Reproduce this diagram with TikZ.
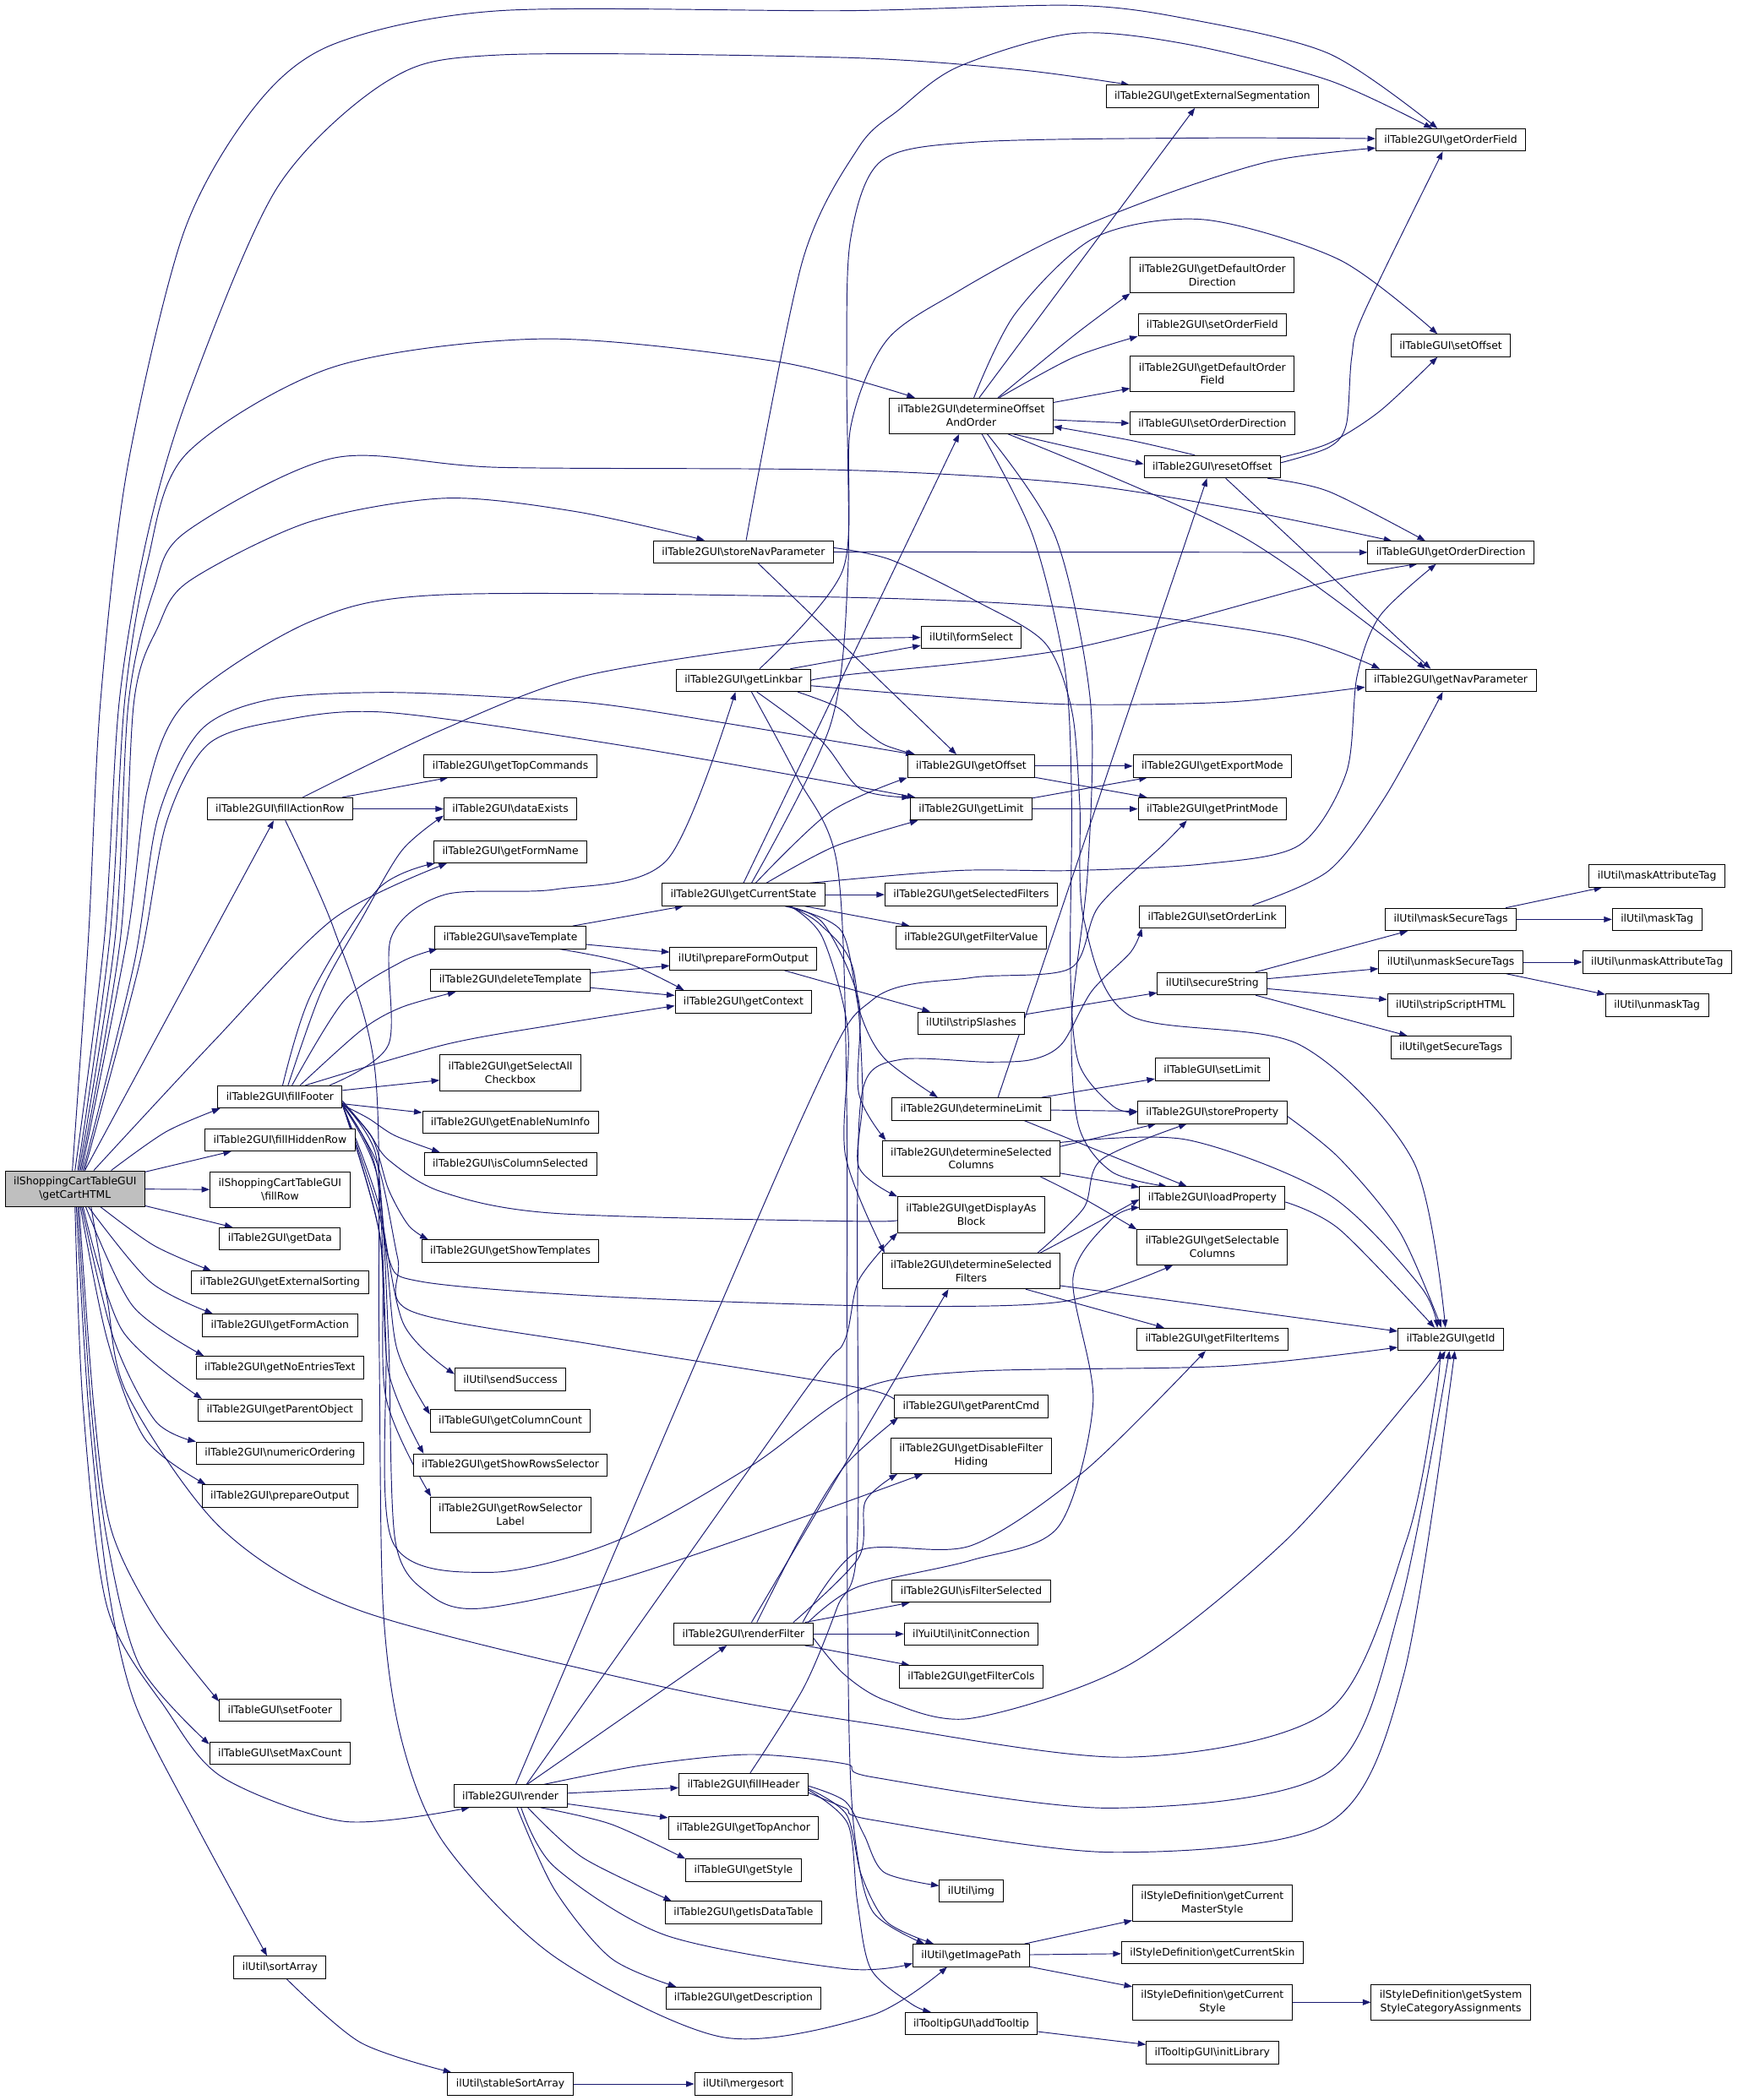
\documentclass[tikz,border=0pt]{standalone}
\usepackage{fontspec}
\setmainfont{DejaVu Sans}
\usetikzlibrary{arrows.meta}
\definecolor{eblue}{HTML}{191970}
\definecolor{rootgray}{HTML}{BFBFBF}
\newcommand{\BkS}{\textbackslash}
\pgfdeclarelayer{edges}
\pgfsetlayers{edges,main}
\tikzset{
 n/.style={draw=black, fill=white, line width=0.6pt, inner xsep=6.3pt, inner ysep=1pt, minimum height=16.7pt, align=center, font=\fontsize{7.8}{10}\selectfont},
 n2/.style={n, minimum height=26.6pt},
 e/.style={draw=eblue, line width=0.6pt, -{Triangle[length=6pt,width=4.4pt]}},
}
\begin{document}
\begin{tikzpicture}[x=1pt,y=-1pt]
\useasboundingbox (0,0) rectangle (1297,1568);
% ---------- nodes ----------
\node[n2,fill=rootgray] (C) at (56,887.5) {ilShoppingCartTableGUI\\\BkS getCartHTML};
% col 2
\node[n] (fillActionRow) at (209,604) {ilTable2GUI\BkS fillActionRow};
\node[n] (fillFooter) at (209,819) {ilTable2GUI\BkS fillFooter};
\node[n] (fillHiddenRow) at (209,851) {ilTable2GUI\BkS fillHiddenRow};
\node[n2] (fillRow) at (209,888.5) {ilShoppingCartTableGUI\\\BkS fillRow};
\node[n] (getData) at (209,925) {ilTable2GUI\BkS getData};
\node[n] (getExternalSorting) at (209,957.5) {ilTable2GUI\BkS getExternalSorting};
\node[n] (getFormAction) at (209,989.5) {ilTable2GUI\BkS getFormAction};
\node[n] (getNoEntriesText) at (209,1021) {ilTable2GUI\BkS getNoEntriesText};
\node[n] (getParentObject) at (209,1053) {ilTable2GUI\BkS getParentObject};
\node[n] (numericOrdering) at (209,1085) {ilTable2GUI\BkS numericOrdering};
\node[n] (prepareOutput) at (209,1117) {ilTable2GUI\BkS prepareOutput};
\node[n] (setFooter) at (209,1277) {ilTableGUI\BkS setFooter};
\node[n] (setMaxCount) at (209,1309) {ilTableGUI\BkS setMaxCount};
\node[n] (sortArray) at (209,1469) {ilUtil\BkS sortArray};
% col 3
\node[n] (getTopCommands) at (381,572) {ilTable2GUI\BkS getTopCommands};
\node[n] (dataExists) at (381,604) {ilTable2GUI\BkS dataExists};
\node[n] (getFormName) at (381,636) {ilTable2GUI\BkS getFormName};
\node[n] (saveTemplate) at (381,700) {ilTable2GUI\BkS saveTemplate};
\node[n] (deleteTemplate) at (381,732) {ilTable2GUI\BkS deleteTemplate};
\node[n2] (getSelectAll) at (381,801) {ilTable2GUI\BkS getSelectAll\\Checkbox};
\node[n] (getEnableNumInfo) at (381,838) {ilTable2GUI\BkS getEnableNumInfo};
\node[n] (isColumnSelected) at (381,869) {ilTable2GUI\BkS isColumnSelected};
\node[n] (getShowTemplates) at (381,934) {ilTable2GUI\BkS getShowTemplates};
\node[n] (sendSuccess) at (381,1030) {ilUtil\BkS sendSuccess};
\node[n] (getColumnCount) at (381,1061) {ilTableGUI\BkS getColumnCount};
\node[n] (getShowRowsSelector) at (381,1094) {ilTable2GUI\BkS getShowRowsSelector};
\node[n2] (getRowSelectorLabel) at (381,1131) {ilTable2GUI\BkS getRowSelector\\Label};
\node[n] (render) at (381,1341) {ilTable2GUI\BkS render};
\node[n] (stableSortArray) at (381,1556) {ilUtil\BkS stableSortArray};
% col 4
\node[n] (storeNavParameter) at (555,412) {ilTable2GUI\BkS storeNavParameter};
\node[n] (getLinkbar) at (555,508) {ilTable2GUI\BkS getLinkbar};
\node[n] (getCurrentState) at (555,668) {ilTable2GUI\BkS getCurrentState};
\node[n] (prepareFormOutput) at (555,716) {ilUtil\BkS prepareFormOutput};
\node[n] (getContext) at (555,748) {ilTable2GUI\BkS getContext};
\node[n] (renderFilter) at (555,1220) {ilTable2GUI\BkS renderFilter};
\node[n] (fillHeader) at (555,1332.5) {ilTable2GUI\BkS fillHeader};
\node[n] (getTopAnchor) at (555,1365) {ilTable2GUI\BkS getTopAnchor};
\node[n] (getStyle) at (555,1396.5) {ilTableGUI\BkS getStyle};
\node[n] (getIsDataTable) at (555,1428) {ilTable2GUI\BkS getIsDataTable};
\node[n] (getDescription) at (555,1492) {ilTable2GUI\BkS getDescription};
\node[n] (mergesort) at (555,1556) {ilUtil\BkS mergesort};
% col 5
\node[n2] (detOffset) at (725,310.5) {ilTable2GUI\BkS determineOffset\\AndOrder};
\node[n] (formSelect) at (725,476) {ilUtil\BkS formSelect};
\node[n] (getOffset) at (725,572) {ilTable2GUI\BkS getOffset};
\node[n] (getLimit) at (725,604) {ilTable2GUI\BkS getLimit};
\node[n] (getSelectedFilters) at (725,668) {ilTable2GUI\BkS getSelectedFilters};
\node[n] (getFilterValue) at (725,700) {ilTable2GUI\BkS getFilterValue};
\node[n] (stripSlashes) at (725,764) {ilUtil\BkS stripSlashes};
\node[n] (detLimit) at (725,828) {ilTable2GUI\BkS determineLimit};
\node[n2] (detSelCols) at (725,865) {ilTable2GUI\BkS determineSelected\\Columns};
\node[n2] (getDisplayAsBlock) at (725,907) {ilTable2GUI\BkS getDisplayAs\\Block};
\node[n2] (detSelFilters) at (725,949) {ilTable2GUI\BkS determineSelected\\Filters};
\node[n] (getParentCmd) at (725,1050) {ilTable2GUI\BkS getParentCmd};
\node[n2] (getDisableFilterHiding) at (725,1087) {ilTable2GUI\BkS getDisableFilter\\Hiding};
\node[n] (isFilterSelected) at (725,1188) {ilTable2GUI\BkS isFilterSelected};
\node[n] (initConnection) at (725,1220) {ilYuiUtil\BkS initConnection};
\node[n] (getFilterCols) at (725,1252) {ilTable2GUI\BkS getFilterCols};
\node[n] (img) at (725,1412) {ilUtil\BkS img};
\node[n] (getImagePath) at (725,1460) {ilUtil\BkS getImagePath};
\node[n] (addTooltip) at (725,1511) {ilTooltipGUI\BkS addTooltip};
% col 6
\node[n] (getExtSeg) at (905,72) {ilTable2GUI\BkS getExternalSegmentation};
\node[n2] (getDefOrdDir) at (905,205.5) {ilTable2GUI\BkS getDefaultOrder\\Direction};
\node[n] (setOrderField) at (905,242.5) {ilTable2GUI\BkS setOrderField};
\node[n2] (getDefOrdField) at (905,279) {ilTable2GUI\BkS getDefaultOrder\\Field};
\node[n] (setOrderDirection) at (905,316) {ilTableGUI\BkS setOrderDirection};
\node[n] (resetOffset) at (905,348.5) {ilTable2GUI\BkS resetOffset};
\node[n] (getExportMode) at (905,572) {ilTable2GUI\BkS getExportMode};
\node[n] (getPrintMode) at (905,604) {ilTable2GUI\BkS getPrintMode};
\node[n] (setOrderLink) at (905,684.5) {ilTable2GUI\BkS setOrderLink};
\node[n] (secureString) at (905,734.5) {ilUtil\BkS secureString};
\node[n] (setLimit) at (905,798.5) {ilTableGUI\BkS setLimit};
\node[n] (storeProperty) at (905,830.5) {ilTable2GUI\BkS storeProperty};
\node[n] (loadProperty) at (905,894.5) {ilTable2GUI\BkS loadProperty};
\node[n2] (getSelCols) at (905,931) {ilTable2GUI\BkS getSelectable\\Columns};
\node[n] (getFilterItems) at (905,1000) {ilTable2GUI\BkS getFilterItems};
\node[n2] (getCurMaster) at (905,1421) {ilStyleDefinition\BkS getCurrent\\MasterStyle};
\node[n] (getCurSkin) at (905,1458) {ilStyleDefinition\BkS getCurrentSkin};
\node[n2] (getCurStyle) at (905,1495) {ilStyleDefinition\BkS getCurrent\\Style};
\node[n] (initLibrary) at (905,1532.5) {ilTooltipGUI\BkS initLibrary};
% col 7
\node[n] (getOrderField) at (1083,104.5) {ilTable2GUI\BkS getOrderField};
\node[n] (setOffset) at (1083,258) {ilTableGUI\BkS setOffset};
\node[n] (getOrderDirection) at (1083,412.5) {ilTableGUI\BkS getOrderDirection};
\node[n] (getNavParameter) at (1083,508) {ilTable2GUI\BkS getNavParameter};
\node[n] (maskSecureTags) at (1083,686.5) {ilUtil\BkS maskSecureTags};
\node[n] (unmaskSecureTags) at (1083,718.4) {ilUtil\BkS unmaskSecureTags};
\node[n] (stripScriptHTML) at (1083,750.6) {ilUtil\BkS stripScriptHTML};
\node[n] (getSecureTags) at (1083,782) {ilUtil\BkS getSecureTags};
\node[n] (getId) at (1083,1000) {ilTable2GUI\BkS getId};
\node[n2] (getSysStyle) at (1083,1495) {ilStyleDefinition\BkS getSystem\\StyleCategoryAssignments};
% col 8
\node[n] (maskAttributeTag) at (1237,654) {ilUtil\BkS maskAttributeTag};
\node[n] (maskTag) at (1237,686.5) {ilUtil\BkS maskTag};
\node[n] (unmaskAttributeTag) at (1237,718.4) {ilUtil\BkS unmaskAttributeTag};
\node[n] (unmaskTag) at (1237,750.6) {ilUtil\BkS unmaskTag};

% ---------- edges ----------
\begin{pgfonlayer}{edges}
\fill[white] (0,0) rectangle (1297,1568);
% from getCartHTML
\draw[e] plot[smooth] coordinates {([xshift=-2pt]C.north) (66,700) (75,524) (95,350) (137,174) (190,80) (249,33) (373,8) (631,8) (801,4) (886,14) (992,40) ([xshift=-10pt]getOrderField.north)};
\draw[e] plot[smooth] coordinates {(C.north) (78,700) (89,524) (110,400) (141,294) (207,140) (290,60) (373,41) (631,43) (760,52) ([xshift=-62pt]getExtSeg.north)};
\draw[e] plot[smooth] coordinates {([xshift=2pt]C.north) (82,700) (93,524) (110,420) (139,339) (249,274) (406,253) (580,270) ([xshift=-42pt]detOffset.north)};
\draw[e] plot[smooth] coordinates {([xshift=3pt]C.north) (86,700) (96,524) (115,440) (139,397) (249,342) (373,349) (631,351) (801,361) (928,381) ([xshift=-44pt]getOrderDirection.north)};
\draw[e] plot[smooth] coordinates {([xshift=4pt]C.north) (90,700) (100,524) (118,468) (141,434) (230,390) (332,372) (430,382) ([xshift=-29pt]storeNavParameter.north)};
\draw[e] plot[smooth] coordinates {([xshift=5pt]C.north) (95,700) (110,590) (139,524) (232,464) (332,444) (631,446) (801,454) (960,475) ([xshift=-53pt]getNavParameter.north)};
\draw[e] plot[smooth] coordinates {([xshift=6pt]C.north) (100,720) (118,610) (150,545) (203,522) (290,517) (400,522) (473,529) ([xshift=5pt]getOffset.north west)};
\draw[e] plot[smooth] coordinates {([xshift=7pt]C.north) (104,720) (124,615) (155,556) (210,538) (290,532) (473,558) ([xshift=4pt]getLimit.north west)};
\draw[e] (C) -- (fillActionRow);
\draw[e] plot[smooth] coordinates {([xshift=14pt]C.north) (160,777) (249,686) ([xshift=10pt]getFormName.south west)};
\draw[e] plot[smooth] coordinates {([xshift=27pt]C.north) (124,845) ([xshift=2pt]fillFooter.south west)};
\draw[e] (C) -- (fillHiddenRow);
\draw[e] (C) -- (fillRow);
\draw[e] (C) -- (getData);
\draw[e] plot[smooth] coordinates {([xshift=19pt]C.south) (115,930) ([xshift=15pt]getExternalSorting.north west)};
\draw[e] plot[smooth] coordinates {([xshift=10pt]C.south) (112,957) ([xshift=8pt]getFormAction.north west)};
\draw[e] plot[smooth] coordinates {([xshift=8pt]C.south) (99,975) ([xshift=6pt]getNoEntriesText.north west)};
\draw[e] plot[smooth] coordinates {([xshift=6pt]C.south) (91,993) ([xshift=3pt]getParentObject.north west)};
\draw[e] plot[smooth] coordinates {([xshift=5pt]C.south) (85,1000) (116,1061) (numericOrdering.north west)};
\draw[e] plot[smooth] coordinates {([xshift=4pt]C.south) (80,1000) (108,1074) ([xshift=3pt]prepareOutput.north west)};
\draw[e] plot[smooth] coordinates {([xshift=3pt]C.south) (70,1050) (83,1142) (116,1209) ([yshift=-2pt]setFooter.north west)};
\draw[e] plot[smooth] coordinates {([xshift=2pt]C.south) (68,1050) (80,1150) (104,1243) ([yshift=-2pt]setMaxCount.north west)};
\draw[e] plot[smooth] coordinates {([xshift=1pt]C.south) (66,1050) (80,1180) (100,1270) (145,1360) ([xshift=25pt]sortArray.north west)};
\draw[e] plot[smooth] coordinates {(C.south) (62,1050) (80,1200) (124,1276) (166,1327) (257,1360) ([xshift=12pt]render.south west)};
\draw[e] plot[smooth] coordinates {([xshift=12pt]C.south) (80,970) (95,1041) (166,1142) (270,1203) (497,1260) (650,1287) (843,1312) (992,1277) (1050,1150) (1072,1041) ([xshift=-8pt]getId.south)};
% fillActionRow
\draw[e] plot[smooth] coordinates {([xshift=17pt]fillActionRow.north) (330,545) (435,505) (595,480) (formSelect.west)};
\draw[e] (fillActionRow) -- (getTopCommands);
\draw[e] (fillActionRow) -- (dataExists);
\draw[e] plot[smooth] coordinates {([xshift=4pt]fillActionRow.south) (249,693) (280,800) (283,1000) (286,1200) (300,1300) (332,1377) (414,1461) (539,1521) (650,1505) ([xshift=-18pt]getImagePath.south)};
% fillFooter
\draw[e] plot[smooth] coordinates {([xshift=6pt]fillFooter.north) (240,740) (270,686) (300,635) ([yshift=-5pt]dataExists.west)};
\draw[e] plot[smooth] coordinates {([xshift=2pt]fillFooter.north) (232,743) (282,664) ([xshift=1pt]getFormName.south west)};
\draw[e] plot[smooth] coordinates {([xshift=37pt]fillFooter.north) (290,780) (292,700) (332,668) (415,664) (498,642) ([xshift=-6pt]getLinkbar.south)};
\draw[e] plot[smooth] coordinates {([xshift=9pt]fillFooter.north) (257,747) (300,718) ([xshift=2pt]saveTemplate.south west)};
\draw[e] plot[smooth] coordinates {([xshift=15pt]fillFooter.north) (270,769) (300,752) ([xshift=19pt]deleteTemplate.south west)};
\draw[e] plot[smooth] coordinates {([xshift=19pt]fillFooter.north) (332,780) (415,765) ([yshift=-3pt]getContext.west)};
\draw[e] (fillFooter) -- (getSelectAll);
\draw[e] (fillFooter) -- (getEnableNumInfo);
\draw[e] plot[smooth] coordinates {([yshift=-6pt]fillFooter.east) (275,835) (295,848) ([xshift=12pt]isColumnSelected.north west)};
\draw[e] plot[smooth] coordinates {([yshift=-3pt]fillFooter.east) (275,845) (290,866) (330,890) (415,906) (650,912) ([yshift=-1pt]getDisplayAsBlock.west)};
\draw[e] plot[smooth] coordinates {([yshift=-5pt]fillFooter.east) (278,850) (290,888) (305,915) ([xshift=5pt]getShowTemplates.north west)};
\draw[e] plot[smooth] coordinates {([yshift=-4pt]fillFooter.east) (280,860) (290,939) (315,957) (450,968) (650,975) (792,972) ([xshift=27pt]getSelCols.south west)};
\draw[e] plot[smooth] coordinates {([yshift=-5pt]fillFooter.east) (282,870) (297,940) (307,979) (450,1005) (650,1038) ([yshift=-4pt]getParentCmd.west)};
\draw[e] plot[smooth] coordinates {([yshift=-6pt]fillFooter.east) (282,897) (301,988) ([yshift=4pt]sendSuccess.west)};
\draw[e] plot[smooth] coordinates {([yshift=-6pt]fillFooter.east) (285,915) (296,1006) ([yshift=5pt]getColumnCount.west)};
\draw[e] plot[smooth] coordinates {([yshift=-6pt]fillFooter.east) (283,920) (290,1024) ([xshift=8pt]getShowRowsSelector.north west)};
\draw[e] plot[smooth] coordinates {([yshift=-6pt]fillFooter.east) (284,925) (288,1043) ([xshift=1pt]getRowSelectorLabel.north west)};
\draw[e] plot[smooth] coordinates {([yshift=-6pt]fillFooter.east) (282,880) (290,1000) (295,1150) (320,1190) (358,1201) (459,1180) (599,1133) ([xshift=24pt]getDisableFilterHiding.south west)};
\draw[e] plot[smooth] coordinates {([yshift=-6pt]fillFooter.east) (281,875) (288,1000) (293,1151) (366,1174) (459,1151) (560,1095) (641,1038) (725,1024) (915,1020) ([yshift=-6pt]getId.west)};
% templates
\draw[e] ([xshift=-10pt]saveTemplate.north east) -- ([xshift=-45pt]getCurrentState.south);
\draw[e] (saveTemplate) -- (prepareFormOutput);
\draw[e] plot[smooth] coordinates {([xshift=-20pt]saveTemplate.south east) (468,719) ([xshift=7pt]getContext.north west)};
\draw[e] (deleteTemplate) -- (prepareFormOutput);
\draw[e] (deleteTemplate) -- (getContext);
\draw[e] (prepareFormOutput) -- (stripSlashes);
\draw[e] (stripSlashes) -- (secureString);
\draw[e] (secureString) -- (maskSecureTags);
\draw[e] (secureString) -- (unmaskSecureTags);
\draw[e] (secureString) -- (stripScriptHTML);
\draw[e] (secureString) -- (getSecureTags);
\draw[e] (maskSecureTags) -- (maskAttributeTag);
\draw[e] (maskSecureTags) -- (maskTag);
\draw[e] (unmaskSecureTags) -- (unmaskAttributeTag);
\draw[e] (unmaskSecureTags) -- (unmaskTag);
% getCurrentState
\draw[e] (getCurrentState.north) -- ([xshift=-9pt]detOffset.south);
\draw[e] plot[smooth] coordinates {([xshift=6pt]getCurrentState.north) (620,541) (633,426) (632,273) (635,178) (658,120) (729,106) (900,103) ([yshift=1pt]getOrderField.west)};
\draw[e] plot[smooth] coordinates {([xshift=9pt]getCurrentState.north) (620,606) (getOffset.south west)};
\draw[e] plot[smooth] coordinates {([xshift=17pt]getCurrentState.north) (623,632) ([xshift=6pt]getLimit.south west)};
\draw[e] plot[smooth] coordinates {([xshift=-12pt]getCurrentState.north east) (715,650) (801,650) (900,645) (970,631) (1005,577) (1013,505) (1030,460) ([xshift=-11pt]getOrderDirection.south)};
\draw[e] (getCurrentState) -- (getSelectedFilters);
\draw[e] (getCurrentState) -- (getFilterValue);
\draw[e] plot[smooth] coordinates {([xshift=-30pt]getCurrentState.south east) (628,695) (642,756) (660,790) ([xshift=-25pt]detLimit.north)};
\draw[e] plot[smooth] coordinates {([xshift=-28pt]getCurrentState.south east) (615,690) (641,747) (641,816) ([xshift=3pt]detSelCols.north west)};
\draw[e] plot[smooth] coordinates {([xshift=-27pt]getCurrentState.south east) (612,690) (637,724) (644,816) (641,871) (getDisplayAsBlock.north west)};
\draw[e] plot[smooth] coordinates {([xshift=-26pt]getCurrentState.south east) (614,700) (633,770) (631,862) ([xshift=2pt]detSelFilters.north west)};
% getLinkbar
\draw[e] plot[smooth] coordinates {([xshift=12pt]getLinkbar.north) (629,426) (635,319) (662,254) (716,217) (788,178) (870,145) (950,120) ([yshift=-6pt]getOrderField.west)};
\draw[e] ([xshift=35pt]getLinkbar.north) -- ([yshift=-6pt]formSelect.west);
\draw[e] plot[smooth] coordinates {(getLinkbar.east) (631,504) (801,484) (992,434) ([xshift=-25pt]getOrderDirection.south)};
\draw[e] plot[smooth] coordinates {([yshift=-4pt]getLinkbar.east) (700,520) (801,526) (920,524) ([yshift=-5pt]getNavParameter.west)};
\draw[e] plot[smooth] coordinates {([xshift=-10pt]getLinkbar.south east) (625,528) (642,543) (660,556) ([xshift=6pt]getOffset.north west)};
\draw[e] plot[smooth] coordinates {([xshift=10pt]getLinkbar.south) (613,553) (642,589) (getLimit.north west)};
\draw[e] plot[smooth] coordinates {([xshift=6pt]getLinkbar.south) (595,580) (625,646) (632,820) (632,1100) (634,1300) (639,1378) (652,1428) ([xshift=-35pt]getImagePath.north)};
% storeNavParameter
\draw[e] plot[smooth] coordinates {([xshift=2pt]storeNavParameter.north) (599,195) (641,110) (671,82) (715,50) (801,25) (886,33) (992,60) ([xshift=-14pt]getOrderField.north)};
\draw[e] (storeNavParameter) -- (getOrderDirection);
\draw[e] ([xshift=11pt]storeNavParameter.south) -- ([xshift=-11pt]getOffset.north);
\draw[e] plot[smooth] coordinates {([yshift=3pt]storeNavParameter.east) (665,418) (729,449) (780,480) (800,530) (806,600) (809,686) (843,758) (970,780) (1055,867) ([xshift=-4pt]getId.north)};
% determineOffsetAndOrder
\draw[e] ([xshift=6pt]detOffset.north) -- ([xshift=-13pt]getExtSeg.south);
\draw[e] plot[smooth] coordinates {([xshift=2pt]detOffset.north) (758,234) (818,177) (899,164) (1000,194) ([xshift=-10pt]setOffset.north)};
\draw[e] plot[smooth] coordinates {([xshift=20pt]detOffset.north) (801,251) (getDefOrdDir.south west)};
\draw[e] plot[smooth] coordinates {([xshift=21pt]detOffset.north) (801,267) (setOrderField.south west)};
\draw[e] ([yshift=10pt]detOffset.east) -- ([yshift=-11pt]getDefOrdField.west);
\draw[e] ([yshift=-3pt]detOffset.east) -- (setOrderDirection.west);
\draw[e] ([xshift=-30pt]detOffset.south east) -- ([yshift=2pt]resetOffset.west);
\draw[e] plot[smooth] coordinates {([xshift=-13pt]resetOffset.north) (845,329) ([yshift=-8pt]detOffset.east)};
\draw[e] plot[smooth] coordinates {([xshift=-34pt]detOffset.south east) (928,401) ([xshift=-19pt]getNavParameter.north)};
\draw[e] plot[smooth] coordinates {([xshift=8pt]detOffset.south) (771,400) (795,500) (800,600) (799,723) (805,793) (831,826) (storeProperty.west)};
\draw[e] plot[smooth] coordinates {([xshift=12pt]detOffset.south) (788,401) (814,524) (812,650) (800,760) (805,840) (830,875) ([xshift=-34pt]loadProperty.north)};
% resetOffset
\draw[e] plot[smooth] coordinates {([yshift=3pt]resetOffset.east) (992,334) (1005,317) (1009,267) (1018,234) ([xshift=-6pt]getOrderField.south)};
\draw[e] plot[smooth] coordinates {([yshift=7pt]resetOffset.east) (992,331) (1030,307) ([xshift=-10pt]setOffset.south)};
\draw[e] plot[smooth] coordinates {([xshift=-10pt]resetOffset.south east) (992,367) ([xshift=-19pt]getOrderDirection.north)};
\draw[e] ([xshift=10pt]resetOffset.south) -- ([xshift=-15pt]getNavParameter.north);
% determineLimit
\draw[e] ([xshift=20pt]detLimit.north) -- ([xshift=-4pt]resetOffset.south);
\draw[e] (detLimit) -- (setLimit);
\draw[e] (detLimit) -- (storeProperty);
\draw[e] ([xshift=-20pt]detLimit.south east) -- ([xshift=-19pt]loadProperty.north);
% determineSelectedColumns
\draw[e] ([yshift=9pt]detSelCols.east) -- ([xshift=-42pt]storeProperty.south);
\draw[e] ([yshift=-11pt]detSelCols.east) -- ([yshift=8pt]loadProperty.west);
\draw[e] plot[smooth] coordinates {([xshift=-15pt]detSelCols.south east) (809,895) ([yshift=13pt]getSelCols.west)};
\draw[e] plot[smooth] coordinates {([yshift=12pt]detSelCols.east) (886,851) (992,892) (1060,960) ([xshift=-10pt]getId.north)};
% determineSelectedFilters
\draw[e] plot[smooth] coordinates {([xshift=-17pt]detSelFilters.north east) (809,902) (822,866) ([xshift=-19pt]storeProperty.south)};
\draw[e] plot[smooth] coordinates {([xshift=-15pt]detSelFilters.north east) (815,915) ([yshift=-1pt]loadProperty.west)};
\draw[e] ([xshift=-26pt]detSelFilters.south east) -- ([xshift=-36pt]getFilterItems.north);
\draw[e] ([yshift=-11pt]detSelFilters.east) -- ([yshift=6pt]getId.west);
% properties
\draw[e] plot[smooth] coordinates {([yshift=-3pt]storeProperty.east) (1000,865) (1045,920) ([xshift=-7pt]getId.north)};
\draw[e] plot[smooth] coordinates {([yshift=-3pt]loadProperty.east) (1000,918) ([xshift=-12pt]getId.north)};
% renderFilter
\draw[e] ([xshift=6pt]renderFilter.north) -- ([xshift=-17pt]detSelFilters.south);
\draw[e] plot[smooth] coordinates {([xshift=10pt]renderFilter.north) (599,1145) (631,1094) ([xshift=3pt]getParentCmd.south west)};
\draw[e] plot[smooth] coordinates {([xshift=-15pt]renderFilter.north east) (641,1163) (646,1121) ([xshift=5pt]getDisableFilterHiding.south west)};
\draw[e] (renderFilter) -- (isFilterSelected);
\draw[e] (renderFilter) -- (initConnection);
\draw[e] (renderFilter) -- (getFilterCols);
\draw[e] plot[smooth] coordinates {([xshift=-8pt]renderFilter.north east) (641,1158) (725,1154) (810,1098) ([xshift=-5pt]getFilterItems.south)};
\draw[e] plot[smooth] coordinates {([xshift=-4pt]renderFilter.north east) (640,1185) (725,1165) (790,1140) (816,1047) (801,954) (830,910) ([yshift=-7pt]loadProperty.west)};
\draw[e] plot[smooth] coordinates {([yshift=-3pt]renderFilter.east) (630,1250) (662,1270) (725,1283) (843,1243) (960,1150) (1055,1041) ([xshift=-4pt]getId.south)};
% render
\draw[e] (render) -- (renderFilter);
\draw[e] (render) -- (fillHeader);
\draw[e] (render) -- (getTopAnchor);
\draw[e] plot[smooth] coordinates {([xshift=-20pt]render.south east) (456,1362) (getStyle.north west)};
\draw[e] plot[smooth] coordinates {([xshift=13pt]render.south) (435,1387) ([xshift=5pt]getIsDataTable.north west)};
\draw[e] plot[smooth] coordinates {([xshift=5pt]render.south) (414,1411) (456,1462) ([xshift=8pt]getDescription.north west)};
\draw[e] plot[smooth] coordinates {([xshift=8pt]render.south) (414,1394) (497,1445) (631,1470) ([yshift=-6pt]getImagePath.west)};
\draw[e] plot[smooth] coordinates {([xshift=12pt]render.north) (599,1041) (630,1002) (641,956) (getDisplayAsBlock.south west)};
\draw[e] plot[smooth] coordinates {([xshift=4pt]render.north) (599,834) (652,746) (725,730) (799,723) (820,677) (868,631) ([xshift=-19pt]getPrintMode.south)};
\draw[e] plot[smooth] coordinates {([xshift=25pt]render.north) (480,1318) (560,1310) (631,1317) (652,1327) (830,1350) (992,1323) (1045,1200) ([xshift=-1pt]getId.south)};
% fillHeader
\draw[e] plot[smooth] coordinates {([xshift=5pt]fillHeader.north) (600,1260) (625,1200) (640,1152) (640,900) (645,810) (673,791) (737,793) (771,791) (793,779) (815,740) (844,711) ([xshift=2pt]setOrderLink.south west)};
\draw[e] plot[smooth] coordinates {([yshift=-1pt]fillHeader.east) (631,1345) (645,1370) (660,1398) ([yshift=4pt]img.west)};
\draw[e] plot[smooth] coordinates {([yshift=-3pt]fillHeader.east) (632,1355) (643,1400) (662,1435) ([xshift=-28pt]getImagePath.north)};
\draw[e] plot[smooth] coordinates {([yshift=-4pt]fillHeader.east) (633,1362) (640,1420) (650,1470) (680,1496) ([xshift=-30pt]addTooltip.north)};
\draw[e] plot[smooth] coordinates {([yshift=-6pt]fillHeader.east) (631,1350) (652,1359) (830,1383) (992,1361) (1048,1250) ([xshift=3pt]getId.south)};
% misc
\draw[e] (getImagePath) -- (getCurMaster);
\draw[e] (getImagePath) -- (getCurSkin);
\draw[e] (getImagePath) -- (getCurStyle);
\draw[e] (getCurStyle) -- (getSysStyle);
\draw[e] (addTooltip) -- (initLibrary);
\draw[e] plot[smooth] coordinates {([xshift=5pt]sortArray.south) (269,1525) ([xshift=3pt]stableSortArray.north west)};
\draw[e] (stableSortArray) -- (mergesort);
\draw[e] (getOffset) -- (getExportMode);
\draw[e] (getOffset) -- (getPrintMode);
\draw[e] (getLimit) -- (getExportMode);
\draw[e] (getLimit) -- (getPrintMode);
\draw[e] plot[smooth] coordinates {([xshift=30pt]setOrderLink.north) (992,650) (1034,595) ([xshift=-6pt]getNavParameter.south)};
\end{pgfonlayer}
\end{tikzpicture}
\end{document}
